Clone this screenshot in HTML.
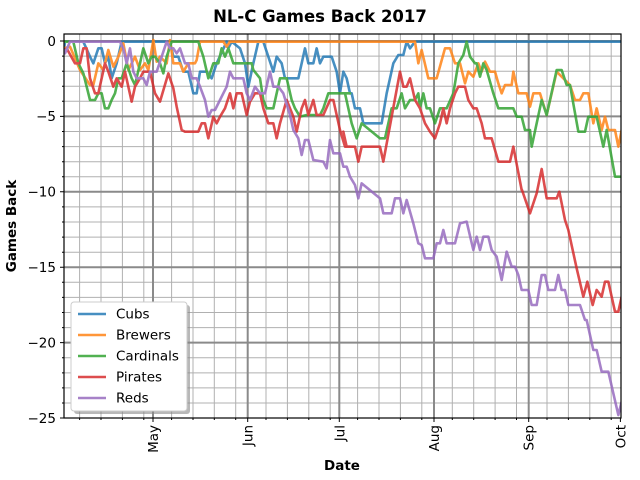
<!DOCTYPE html>
<html><head><meta charset="utf-8"><style>
html,body{margin:0;padding:0;background:#fff;}
svg{display:block;font-family:"DejaVu Sans","Liberation Sans",sans-serif;}
</style></head><body>
<svg width="640" height="480" viewBox="0 0 640 480" xmlns="http://www.w3.org/2000/svg">
<defs><clipPath id="c"><rect x="64" y="34" width="557" height="384"/></clipPath></defs>
<rect width="640" height="480" fill="#fff"/>
<text x="320" y="22" text-anchor="middle" font-size="16.5" font-weight="bold">NL-C Games Back 2017</text>
<g stroke="#b0b0b0" stroke-width="1">
<path d="M64 56.1H621M64 71.2H621M64 86.2H621M64 101.3H621M64 131.5H621M64 146.6H621M64 161.7H621M64 176.7H621M64 206.9H621M64 222H621M64 237.1H621M64 252.2H621M64 282.3H621M64 297.4H621M64 312.5H621M64 327.6H621M64 357.8H621M64 372.9H621M64 387.9H621M64 403H621"/>
<path d="M79.6 34V418M101 34V418M122.4 34V418M143.8 34V418M171.6 34V418M193 34V418M214.3 34V418M235.7 34V418M266 34V418M287.4 34V418M308.8 34V418M330.2 34V418M357.6 34V418M379 34V418M400.4 34V418M421.8 34V418M452.3 34V418M473.7 34V418M495.1 34V418M516.5 34V418M547 34V418M568.4 34V418M589.8 34V418M611.2 34V418"/>
</g>
<g stroke="#8a8a8a" stroke-width="2">
<path d="M64 41H621M64 116.4H621M64 191.8H621M64 267.2H621M64 342.6H621"/>
<path d="M153 34V418M247.7 34V418M339.3 34V418M434 34V418M528.7 34V418"/>
</g>
<g clip-path="url(#c)" fill="none" stroke-width="2.6" stroke-linejoin="round" stroke-linecap="round" opacity="0.82">
<g transform="translate(60,30) scale(0.33333)">
<polyline vector-effect="non-scaling-stroke" stroke="#1f77b4" points="12,60 15,35 70,35 90,80 100,100 115,55 125,55 135,100 145,80 155,145 170,100 185,35 330,35 340,80 355,80 370,125 385,125 400,190 410,190 420,125 440,125 455,145 470,100 500,35 505,55 515,35 540,55 555,100 565,170 580,100 595,35 610,35 625,80 640,125 650,80 665,100 675,145 715,145 735,55 745,100 760,100 770,55 780,100 790,80 815,80 830,125 840,190 850,125 860,145 870,190"/>
</g>
<g transform="translate(330,30) scale(0.33333)">
<polyline vector-effect="non-scaling-stroke" stroke="#1f77b4" points="60,190 65,190 75,235 90,235 100,280 155,280 170,190 190,100 205,75 220,75 230,35 240,55 255,35 900,35"/>
</g>
<g transform="translate(60,30) scale(0.33333)">
<polyline vector-effect="non-scaling-stroke" stroke="#ff7f0e" points="12,55 30,50 60,120 90,165 100,165 115,100 130,120 145,60 160,110 175,80 190,40 205,120 225,80 240,120 255,100 265,120 280,30 290,95 300,80 320,100 330,30 340,100 360,100 370,125 385,100 405,100 410,90 420,35 490,35 500,50 510,35 870,35"/>
</g>
<g transform="translate(330,30) scale(0.33333)">
<polyline vector-effect="non-scaling-stroke" stroke="#ff7f0e" points="60,35 255,35 265,100 275,60 295,145 320,145 345,55 360,55 375,100 390,100 405,160 415,125 430,140 445,100 455,125 465,95 480,125 495,125 505,160 515,190 525,165 545,165 550,125 565,190 590,190 600,230 610,190 630,190 650,255 680,125 700,145 720,165 735,210 750,210 760,190 775,190 790,280 800,235 815,300 825,260 835,300 855,300 865,350 875,300"/>
</g>
<g transform="translate(60,30) scale(0.33333)">
<polyline vector-effect="non-scaling-stroke" stroke="#2ca02c" points="12,35 40,35 55,100 70,130 90,210 105,210 115,190 125,190 135,235 145,235 155,210 165,190 175,145 185,145 200,100 215,145 225,165 240,100 250,55 265,100 275,80 285,80 300,100 310,130 320,80 335,35 415,35 430,80 445,145 460,100 475,100 485,55 495,80 505,55 520,100 575,100 580,120 600,145 610,210 620,235 640,235 660,145 680,145 695,210 705,235 720,260 740,255 780,255 790,235 805,190 870,190"/>
</g>
<g transform="translate(330,30) scale(0.33333)">
<polyline vector-effect="non-scaling-stroke" stroke="#2ca02c" points="45,190 65,280 80,325 95,280 150,325 165,325 185,235 200,235 215,190 225,235 240,210 255,210 265,190 270,235 280,190 290,235 300,235 315,280 330,235 350,235 370,190 385,100 400,75 410,35 420,80 435,100 440,100 450,140 460,100 470,120 490,190 505,235 550,235 560,260 575,260 585,300 600,300 605,350 635,210 650,255 680,120 695,120 710,165 720,165 745,305 765,305 775,260 800,260 820,350 830,300 855,440 875,440"/>
</g>
<g transform="translate(60,30) scale(0.33333)">
<polyline vector-effect="non-scaling-stroke" stroke="#d62728" points="12,60 20,55 45,100 60,100 70,55 80,55 90,145 105,190 115,190 125,145 135,100 145,125 160,170 170,145 185,170 195,125 205,170 215,215 225,170 240,145 250,125 270,125 285,190 300,215 325,130 340,175 350,230 365,300 375,305 415,305 425,280 435,280 445,325 460,260 470,280 480,260 495,235 510,190 520,235 530,190 545,190 560,255 570,215 585,190 600,190 610,235 625,280 640,280 650,325 660,280 680,210 690,235 700,260 710,305 725,235 735,210 745,255 760,210 770,255 790,255 810,210 820,210 840,300 855,350 870,350"/>
</g>
<g transform="translate(330,30) scale(0.33333)">
<polyline vector-effect="non-scaling-stroke" stroke="#d62728" points="40,305 50,350 75,350 85,395 95,350 150,350 160,395 185,260 210,125 220,170 230,170 240,145 255,210 270,235 285,280 300,305 315,325 330,280 340,235 350,280 360,235 375,190 385,170 405,170 415,210 430,235 440,235 455,280 465,325 485,325 505,395 540,395 550,350 575,480"/>
</g>
<g transform="translate(300,180) scale(0.33333)">
<polyline vector-effect="non-scaling-stroke" stroke="#d62728" points="666,30 690,100 710,40 725,-33 740,55 770,55 778,35 795,120 805,150 830,265 850,350 862,305 878,375 890,330 905,350 915,305 925,305 945,395 955,395 965,350"/>
</g>
<g transform="translate(60,30) scale(0.33333)">
<polyline vector-effect="non-scaling-stroke" stroke="#9467bd" points="12,60 15,70 30,35 180,35 190,55 200,100 210,55 220,125 230,145 250,145 260,165 270,125 290,125 305,80 320,35 330,55 340,55 350,70 360,55 375,100 385,100 395,145 410,145 420,170 435,210 445,260 455,240 465,240 480,210 490,190 500,170 510,125 520,145 550,145 560,190 570,210 585,170 600,190 615,190 630,125 640,170 655,170 670,190 690,255 700,300 715,325 725,375 735,330 745,330 760,390 790,395 800,415 810,330 820,370 840,370 850,410 860,410 870,440"/>
</g>
<g transform="translate(300,180) scale(0.33333)">
<polyline vector-effect="non-scaling-stroke" stroke="#9467bd" points="150,-10 165,15 175,55 185,10 240,55 250,100 275,100 285,55 300,55 310,100 320,60 340,130 355,190 365,195 375,235 400,235 410,190 420,190 430,150 440,190 465,190 480,130 500,125 520,210 530,170 540,210 550,170 565,170 575,210 590,230 605,300 620,215 635,260 645,260 655,285 665,330 685,330 695,375 710,375 725,285 735,285 745,330 765,330 775,285 785,330 795,330 805,375 840,375 855,420 860,420 880,510 890,510 905,575 925,575 955,705 965,665"/>
</g>
</g>
<rect x="64" y="34" width="557" height="384" fill="none" stroke="#000" stroke-width="1.2"/>
<g stroke="#000" stroke-width="1">
<path d="M64 41h-4M64 116.4h-4M64 191.8h-4M64 267.2h-4M64 342.6h-4M64 418h-4"/>
<path d="M153 418v4M247.7 418v4M339.3 418v4M434 418v4M528.7 418v4M620.4 418v4"/>
<path d="M79.6 418v2M101 418v2M122.4 418v2M143.8 418v2M171.6 418v2M193 418v2M214.3 418v2M235.7 418v2M266 418v2M287.4 418v2M308.8 418v2M330.2 418v2M357.6 418v2M379 418v2M400.4 418v2M421.8 418v2M452.3 418v2M473.7 418v2M495.1 418v2M516.5 418v2M547 418v2M568.4 418v2M589.8 418v2M611.2 418v2"/>
<path d="M64 56.1h-2M64 71.2h-2M64 86.2h-2M64 101.3h-2M64 131.5h-2M64 146.6h-2M64 161.7h-2M64 176.7h-2M64 206.9h-2M64 222h-2M64 237.1h-2M64 252.2h-2M64 282.3h-2M64 297.4h-2M64 312.5h-2M64 327.6h-2M64 357.8h-2M64 372.9h-2M64 387.9h-2M64 403h-2"/>
</g>
<g font-size="13.5" text-anchor="end">
<text x="56" y="46">0</text>
<text x="56" y="121.2">−5</text>
<text x="56" y="196.6">−10</text>
<text x="56" y="272">−15</text>
<text x="56" y="347.4">−20</text>
<text x="56" y="422.8">−25</text>
</g>
<g font-size="13.5" text-anchor="end">
<text transform="translate(158,425) rotate(-90)">May</text>
<text transform="translate(252.7,425) rotate(-90)">Jun</text>
<text transform="translate(344.3,425) rotate(-90)">Jul</text>
<text transform="translate(439,425) rotate(-90)">Aug</text>
<text transform="translate(533.7,425) rotate(-90)">Sep</text>
<text transform="translate(625.4,425) rotate(-90)">Oct</text>
</g>
<text x="342" y="470" text-anchor="middle" font-size="13.5" font-weight="bold">Date</text>
<text transform="translate(16,226) rotate(-90)" text-anchor="middle" font-size="13.5" font-weight="bold">Games Back</text>
<rect x="74" y="305" width="116" height="109" rx="3" fill="#888" opacity="0.6"/>
<rect x="71" y="302" width="116" height="109" rx="3" fill="#fff" stroke="#ccc" stroke-width="1"/>
<g stroke-width="2.6" opacity="0.82">
<path d="M78 314h28" stroke="#1f77b4"/>
<path d="M78 335h28" stroke="#ff7f0e"/>
<path d="M78 356h28" stroke="#2ca02c"/>
<path d="M78 377h28" stroke="#d62728"/>
<path d="M78 398h28" stroke="#9467bd"/>
</g>
<g font-size="13.5">
<text x="116" y="318.5">Cubs</text>
<text x="116" y="339.5">Brewers</text>
<text x="116" y="360.5">Cardinals</text>
<text x="116" y="381.5">Pirates</text>
<text x="116" y="402.5">Reds</text>
</g>
</svg>
</body></html>
